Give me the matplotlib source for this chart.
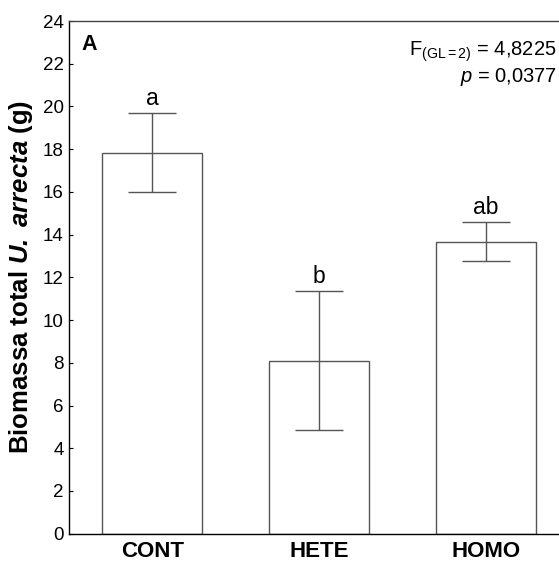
import numpy as np
import matplotlib
matplotlib.use('Agg')
import matplotlib.pyplot as plt

plt.rcParams['font.family'] = ['Liberation Sans', 'DejaVu Sans']
plt.rcParams['mathtext.fontset'] = 'custom'
plt.rcParams['mathtext.rm'] = 'Liberation Sans'
plt.rcParams['mathtext.it'] = 'Liberation Sans:italic'
plt.rcParams['mathtext.bf'] = 'Liberation Sans:bold'
plt.rcParams['mathtext.sf'] = 'Liberation Sans:bold:italic'

# data
groups = ['CONT', 'HETE', 'HOMO']
means = [17.84, 8.10, 13.67]
errs = [1.83, 3.25, 0.91]
letters = ['a', 'b', 'ab']

fig = plt.figure(figsize=(5.59, 5.63), dpi=100)
ax = fig.add_axes([68.7/559, 29.3/563, 501/559, 512.7/563])

x = np.arange(len(groups))
ax.bar(x, means, width=0.6, color='white', edgecolor='#555555', linewidth=1.0, zorder=2)
ax.errorbar(x, means, yerr=errs, fmt='none', ecolor='#555555', elinewidth=1.0,
            capsize=17.6, capthick=1.0, zorder=3)
for xi, m, e, l in zip(x, means, errs, letters):
    ax.text(xi, m + e + 0.4, l, ha='center', va='baseline', fontsize=16.5)

ax.set_xlim(-0.5, 2.5)
ax.set_ylim(0, 24)
ax.set_yticks(range(0, 25, 2))
ax.set_xticks(x)
ax.set_xticklabels(groups, fontweight='bold', fontsize=16)
ax.tick_params(axis='x', length=0, pad=5)
ax.tick_params(axis='y', direction='in', length=3, labelsize=13.5, pad=3.5)
ax.spines['right'].set_visible(False)
for s in ['left', 'bottom', 'top']:
    ax.spines[s].set_linewidth(1.0)
ax.spines['top'].set_color('#444444')

ax.set_ylabel(r'Biomassa total $\mathsf{U.}$ $\mathsf{arrecta}$ (g)', fontweight='bold', fontsize=18.5)
ax.yaxis.set_label_coords(-0.068, 0.5)

ax.text(0.026, 0.975, 'A', transform=ax.transAxes, fontweight='bold', fontsize=15.5,
        ha='left', va='top')
fig.text(557/559, 1 - 56/563, r'F$_{\mathregular{(GL=2)}}$ = 4,8225', ha='right', va='baseline',
         fontsize=14.5)
fig.text(557/559, 1 - 82/563, r'$p$ = 0,0377', ha='right', va='baseline', fontsize=14.5)

fig.savefig('out.png', dpi=100)
